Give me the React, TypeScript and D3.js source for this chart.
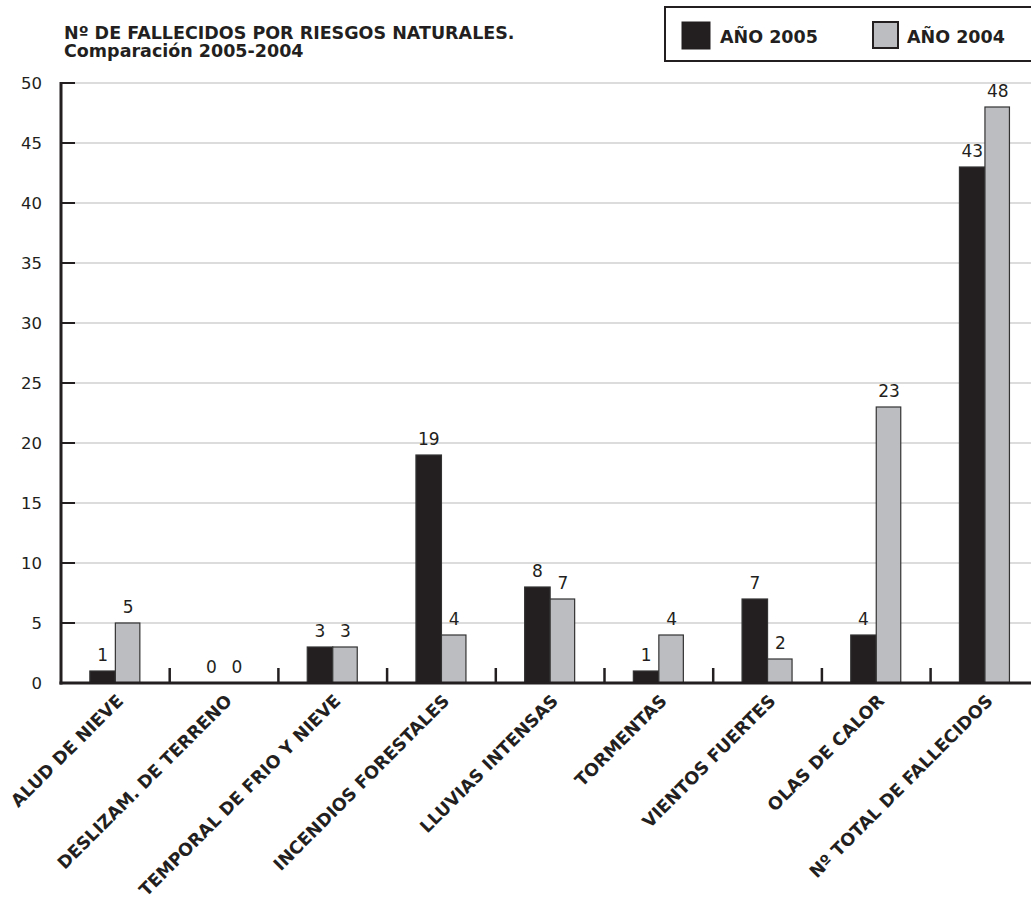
import React from "react";
import * as d3 from "d3";

const categories = [
  "ALUD DE NIEVE",
  "DESLIZAM. DE TERRENO",
  "TEMPORAL DE FRIO Y NIEVE",
  "INCENDIOS FORESTALES",
  "LLUVIAS INTENSAS",
  "TORMENTAS",
  "VIENTOS FUERTES",
  "OLAS DE CALOR",
  "Nº TOTAL DE FALLECIDOS",
];
const values2005 = [1, 0, 3, 19, 8, 1, 7, 4, 43];
const values2004 = [5, 0, 3, 4, 7, 4, 2, 23, 48];
const yTicks = [0, 5, 10, 15, 20, 25, 30, 35, 40, 45, 50];
const seriesNames = ["AÑO 2005", "AÑO 2004"];

const W = 1031;
const H = 904;
const FONT = "'DejaVu Sans', sans-serif";

export default function App() {
  const x0 = 61;
  const bandW = 108.7;
  const x = d3
    .scaleBand<string>()
    .domain(categories)
    .range([x0, x0 + bandW * categories.length])
    .paddingInner(0)
    .paddingOuter(0);
  const y = d3.scaleLinear().domain([0, 50]).range([683, 83]);
  const barW = 25.5;
  const black = "#231f20";
  const gray = "#bcbdc0";

  return (
    <svg
      width={W}
      height={H}
      style={{ position: "absolute", left: 0, top: 0, background: "#fff" }}
      fontFamily={FONT}
    >
      {/* gridlines */}
      {yTicks.map((t) =>
        t > 0 ? (
          <line key={"g" + t} x1={x0} x2={W} y1={y(t)} y2={y(t)} stroke="#dcdcdc" strokeWidth={2} />
        ) : null
      )}
      {/* y ticks */}
      {yTicks.map((t) => (
        <g key={"t" + t}>
          <line x1={x0} x2={x0 + 14} y1={y(t)} y2={y(t)} stroke={black} strokeWidth={2} />
          <text x={42} y={y(t) + 6} textAnchor="end" fontSize={16.5} fill={black}>
            {t}
          </text>
        </g>
      ))}
      {/* bars */}
      {categories.map((c, i) => {
        const cx = (x(c) as number) + x.bandwidth() / 2;
        const v5 = values2005[i];
        const v4 = values2004[i];
        return (
          <g key={c}>
            {v5 > 0 && (
              <rect x={cx - barW} y={y(v5)} width={barW} height={y(0) - y(v5)} fill={black} stroke="#333" strokeWidth={1.2} />
            )}
            {v4 > 0 && (
              <rect x={cx} y={y(v4)} width={barW - 1} height={y(0) - y(v4)} fill={gray} stroke="#333" strokeWidth={1.2} />
            )}
            <text x={cx - barW / 2} y={y(v5) - 10} textAnchor="middle" fontSize={17} fill={black}>
              {v5}
            </text>
            <text x={cx + barW / 2} y={y(v4) - 10} textAnchor="middle" fontSize={17} fill={black}>
              {v4}
            </text>
            <text
              transform={`translate(${cx + 9},${702}) rotate(-45)`}
              textAnchor="end"
              fontSize={17.5}
              fontWeight="bold"
              fill={black}
            >
              {c}
            </text>
          </g>
        );
      })}
      {/* category ticks */}
      {categories.slice(1).map((c) => (
        <line key={"ct" + c} x1={x(c) as number} x2={x(c) as number} y1={683} y2={668} stroke={black} strokeWidth={2.5} />
      ))}
      {/* axes */}
      <line x1={x0} x2={x0} y1={82} y2={684.5} stroke={black} strokeWidth={3} />
      <line x1={x0 - 1.5} x2={W} y1={683} y2={683} stroke={black} strokeWidth={3} />

      {/* title */}
      <text x={64} y={39} fontSize={17.5} fontWeight="bold" fill={black}>
        Nº DE FALLECIDOS POR RIESGOS NATURALES.
      </text>
      <text x={64} y={57} fontSize={17.5} fontWeight="bold" fill={black}>
        Comparación 2005-2004
      </text>

      {/* legend */}
      <rect x={665} y={7} width={372} height={54} fill="#fff" stroke={black} strokeWidth={2} />
      <rect x={682} y={22} width={28} height={27} fill={black} stroke={black} strokeWidth={1} />
      <text x={720} y={43} fontSize={17.5} fontWeight="bold" fill={black}>
        {seriesNames[0]}
      </text>
      <rect x={873} y={22} width={25} height={26} fill={gray} stroke={black} strokeWidth={2} />
      <text x={907} y={43} fontSize={17.5} fontWeight="bold" fill={black}>
        {seriesNames[1]}
      </text>
    </svg>
  );
}
